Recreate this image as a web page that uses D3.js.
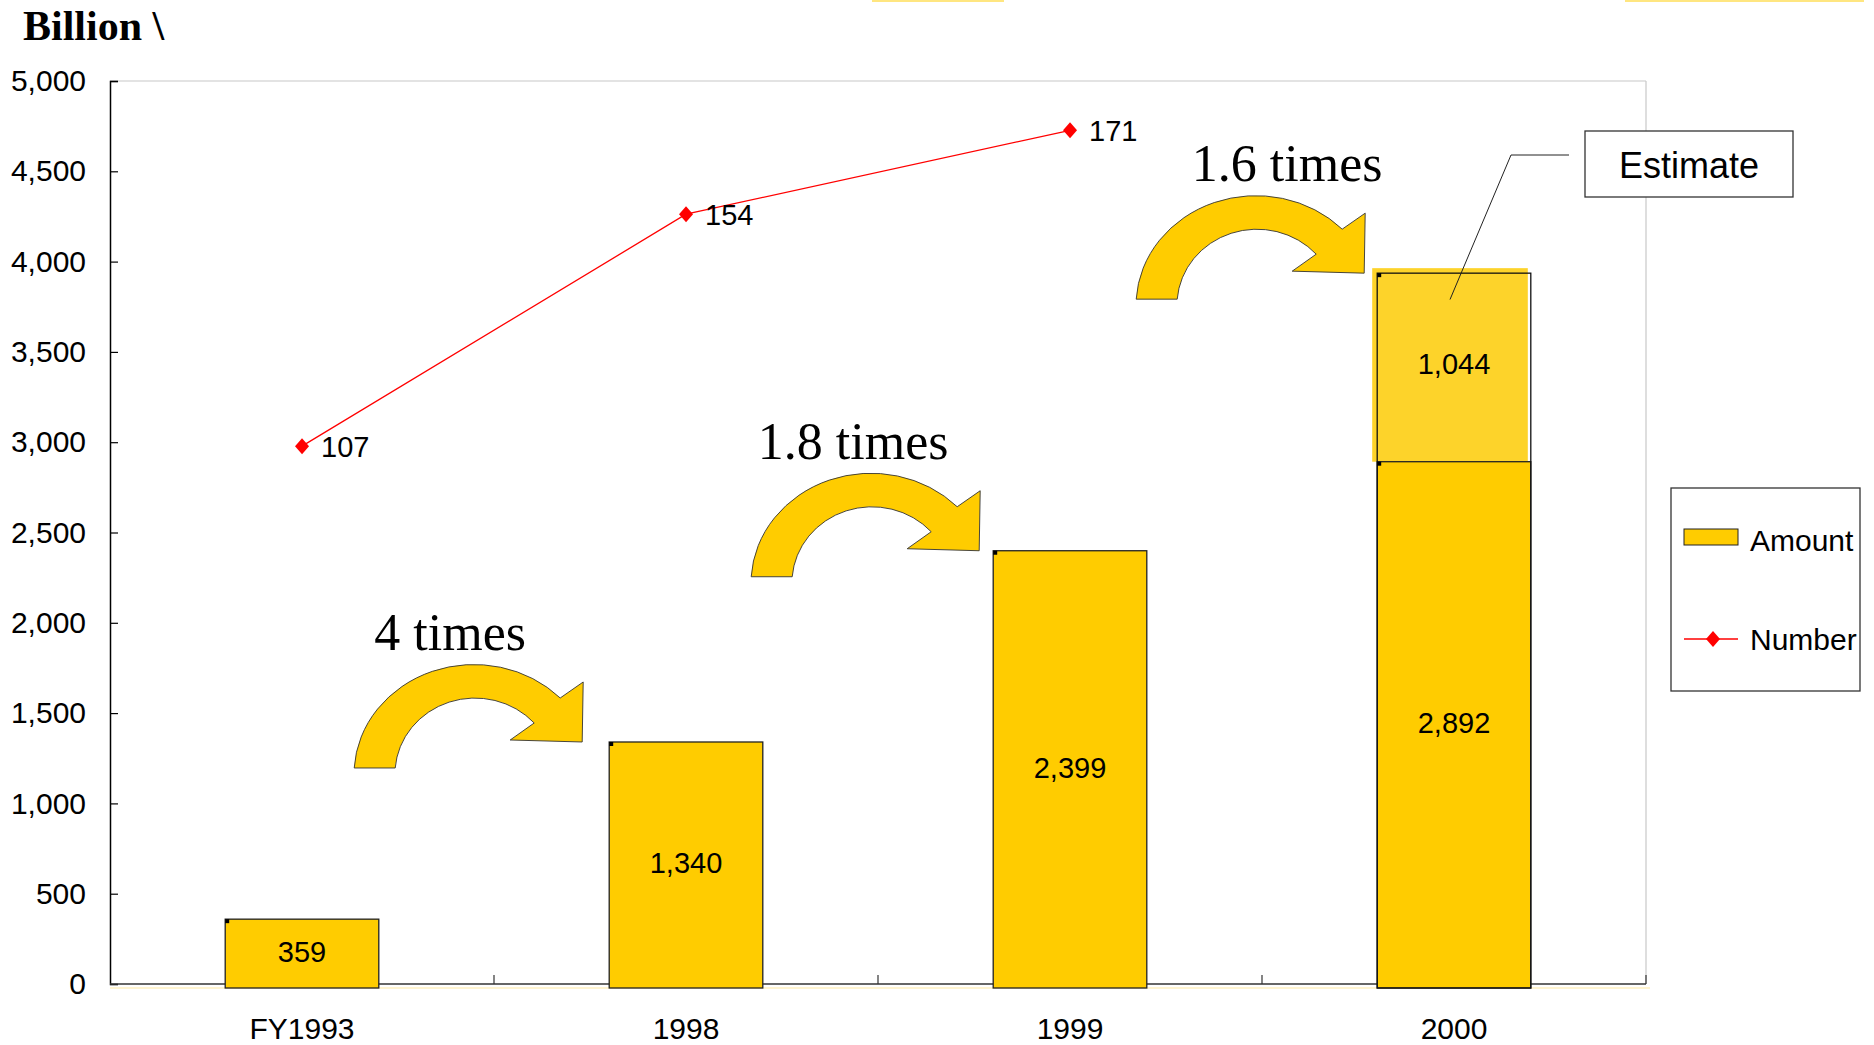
<!DOCTYPE html>
<html>
<head>
<meta charset="utf-8">
<script src="https://cdn.jsdelivr.net/npm/d3@7"></script>
<style>
  html, body { margin: 0; padding: 0; background: #fff; }
  svg { display: block; }
  text { font-family: "Liberation Sans", Arial, sans-serif; fill: #000; }
  .serif { font-family: "Liberation Serif", "Times New Roman", serif; }
</style>
</head>
<body>
<svg id="chart" width="1874" height="1045"></svg>
<script>
// ---------- data ----------
const categories = ["FY1993", "1998", "1999", "2000"];
const amountActual = [359, 1340, 2399, 2892];
const amountEstimate = [0, 0, 0, 1044];
const numberValues = [107, 154, 171];
const yTicks = [0, 500, 1000, 1500, 2000, 2500, 3000, 3500, 4000, 4500, 5000];
const growthLabels = ["4 times", "1.8 times", "1.6 times"];
const unitLabel = "Billion \\";
const estimateLabel = "Estimate";
const legendLabels = ["Amount", "Number"];

// ---------- layout ----------
const W = 1874, H = 1045;
const plot = { left: 110, right: 1646, top: 81, bottom: 984 };
const yellow = "#FFCC00", lightYellow = "#FDD32A";

const svg = d3.select("#chart");

const x = d3.scaleBand().domain(categories)
  .range([plot.left, plot.right]).paddingInner(0.6).paddingOuter(0.3);
const y = d3.scaleLinear().domain([0, 5000]).range([plot.bottom, plot.top]);
const y2 = d3.scaleLinear().domain([-2, 181]).range([plot.bottom, plot.top]);
const step = x.step();

// faint decorative lines at top of slide
svg.append("line").attr("x1", 872).attr("x2", 1004).attr("y1", 1).attr("y2", 1)
  .attr("stroke", "#FFE680").attr("stroke-width", 2);
svg.append("line").attr("x1", 1625).attr("x2", 1864).attr("y1", 1).attr("y2", 1)
  .attr("stroke", "#FFE680").attr("stroke-width", 2);

// plot frame (top and right light gray)
svg.append("line").attr("x1", plot.left).attr("x2", plot.right)
  .attr("y1", plot.top).attr("y2", plot.top).attr("stroke", "#c8c8c8").attr("stroke-width", 1.2);
svg.append("line").attr("x1", plot.right).attr("x2", plot.right)
  .attr("y1", plot.top).attr("y2", plot.bottom).attr("stroke", "#c8c8c8").attr("stroke-width", 1.2);

// faint yellow line below x axis
svg.append("line").attr("x1", plot.left).attr("x2", plot.right + 4)
  .attr("y1", plot.bottom + 4).attr("y2", plot.bottom + 4)
  .attr("stroke", "#FFE9A0").attr("stroke-width", 1);

// y axis
const yAxis = d3.axisLeft(y).tickValues(yTicks).tickSize(-8).tickPadding(24)
  .tickFormat(d3.format(","));
const gy = svg.append("g").attr("transform", `translate(${plot.left},0)`).call(yAxis);
gy.select(".domain").attr("stroke", "#000").attr("stroke-width", 1.5);
gy.selectAll(".tick line").attr("stroke", "#000").attr("stroke-width", 1.2);
gy.selectAll(".tick text").attr("font-size", 30).attr("font-family", "Liberation Sans, Arial, sans-serif")
  .attr("fill", "#000");

// x axis line + inner ticks at band boundaries
svg.append("line").attr("x1", plot.left).attr("x2", plot.right)
  .attr("y1", plot.bottom).attr("y2", plot.bottom).attr("stroke", "#333").attr("stroke-width", 1.6);
const boundaries = d3.range(1, categories.length + 1).map(i => plot.left + i * step);
svg.selectAll(".xtick").data(boundaries).enter().append("line")
  .attr("x1", d => d).attr("x2", d => d)
  .attr("y1", plot.bottom).attr("y2", plot.bottom - 9)
  .attr("stroke", "#333").attr("stroke-width", 1.2);
svg.selectAll(".xlab").data(categories).enter().append("text")
  .attr("x", d => x(d) + x.bandwidth() / 2).attr("y", 1039)
  .attr("text-anchor", "middle").attr("font-size", 30).text(d => d);

// ---------- bars ----------
const bw = x.bandwidth();
categories.forEach((c, i) => {
  if (amountEstimate[i] > 0) {
    const top = y(amountActual[i] + amountEstimate[i]);
    svg.append("rect").attr("x", x(c) - 5).attr("y", top - 5)
      .attr("width", bw + 2).attr("height", y(amountActual[i]) - top + 5)
      .attr("fill", lightYellow);
  }
});
svg.selectAll(".bar").data(categories).enter().append("rect")
  .attr("x", d => x(d)).attr("y", (d, i) => y(amountActual[i]))
  .attr("width", bw).attr("height", (d, i) => plot.bottom + 4 - y(amountActual[i]))
  .attr("fill", yellow).attr("stroke", "#222").attr("stroke-width", 1.3);
categories.forEach((c, i) => {
  if (amountEstimate[i] > 0) {
    const top = y(amountActual[i] + amountEstimate[i]);
    svg.append("rect").attr("x", x(c)).attr("y", top)
      .attr("width", bw).attr("height", plot.bottom + 4 - top)
      .attr("fill", "none").attr("stroke", "#111").attr("stroke-width", 1.3);
    svg.append("rect").attr("x", x(c)).attr("y", top).attr("width", 4).attr("height", 4).attr("fill", "#000");
  }
});
svg.selectAll(".corner").data(categories).enter().append("rect")
  .attr("x", d => x(d)).attr("y", (d, i) => y(amountActual[i]))
  .attr("width", 4).attr("height", 4).attr("fill", "#000");

const fmt = d3.format(",");
svg.selectAll(".blab").data(categories).enter().append("text")
  .attr("x", d => x(d) + bw / 2).attr("y", (d, i) => y(amountActual[i] / 2))
  .attr("dy", "0.36em").attr("text-anchor", "middle").attr("font-size", 29)
  .text((d, i) => fmt(amountActual[i]));
categories.forEach((c, i) => {
  if (amountEstimate[i] > 0) {
    svg.append("text").attr("x", x(c) + bw / 2)
      .attr("y", y(amountActual[i] + amountEstimate[i] / 2) - 4)
      .attr("dy", "0.36em").attr("text-anchor", "middle").attr("font-size", 29)
      .text(fmt(amountEstimate[i]));
  }
});

// ---------- line ----------
const linePts = numberValues.map((v, i) => [x(categories[i]) + bw / 2, y2(v)]);
svg.append("path").attr("d", d3.line()(linePts))
  .attr("fill", "none").attr("stroke", "#FF0000").attr("stroke-width", 1.3);
const diamond = "M0,-8 L7,0 L0,8 L-7,0 Z";
svg.selectAll(".mk").data(linePts).enter().append("path")
  .attr("d", diamond).attr("transform", d => `translate(${d[0]},${d[1]})`)
  .attr("fill", "#FF0000");
svg.selectAll(".nlab").data(numberValues).enter().append("text")
  .attr("x", (d, i) => linePts[i][0] + 19).attr("y", (d, i) => linePts[i][1])
  .attr("dy", "0.36em").attr("font-size", 29).text(d => d);

// ---------- growth arrows ----------
const arrowW = 229;
const arrowPath = "M0,101 A120,110 0 0 1 206,31 L229,15 L228,75 L156,73 L180,56 A80,76 0 0 0 41,101 Z";
const arrowGap = [26, 13, 12];
const labelOffset = [96, 102, 151];
growthLabels.forEach((lab, i) => {
  const next = categories[i + 1];
  const total = amountActual[i + 1] + amountEstimate[i + 1];
  const left = x(next) - arrowGap[i] - arrowW;
  const top = y(total) - 75;
  svg.append("path").attr("d", arrowPath)
    .attr("transform", `translate(${left},${top})`)
    .attr("fill", yellow).attr("stroke", "#333").attr("stroke-width", 0.9);
  svg.append("text").attr("class", "serif")
    .attr("x", left + labelOffset[i]).attr("y", top - 17)
    .attr("text-anchor", "middle").attr("font-size", 52).text(lab);
});

// ---------- estimate callout ----------
const estCat = categories[3];
const ex = x(estCat) + bw / 2 - 4, ey = y(3790);
svg.append("path")
  .attr("d", d3.line()([[ex, ey], [1511, 155], [1569, 155]]))
  .attr("fill", "none").attr("stroke", "#222").attr("stroke-width", 1);
svg.append("rect").attr("x", 1585).attr("y", 131).attr("width", 208).attr("height", 66)
  .attr("fill", "#fff").attr("stroke", "#333").attr("stroke-width", 1.3);
svg.append("text").attr("x", 1689).attr("y", 165).attr("dy", "0.36em")
  .attr("text-anchor", "middle").attr("font-size", 36).text(estimateLabel);

// ---------- legend ----------
svg.append("rect").attr("x", 1671).attr("y", 488).attr("width", 189).attr("height", 203)
  .attr("fill", "#fff").attr("stroke", "#333").attr("stroke-width", 1.3);
svg.append("rect").attr("x", 1684).attr("y", 529).attr("width", 54).attr("height", 16)
  .attr("fill", yellow).attr("stroke", "#222").attr("stroke-width", 1);
svg.append("text").attr("x", 1750).attr("y", 540).attr("dy", "0.36em")
  .attr("font-size", 30).text(legendLabels[0]);
svg.append("line").attr("x1", 1684).attr("x2", 1738).attr("y1", 639).attr("y2", 639)
  .attr("stroke", "#FF0000").attr("stroke-width", 1.3);
svg.append("path").attr("d", diamond).attr("transform", "translate(1713,639)").attr("fill", "#FF0000");
svg.append("text").attr("x", 1750).attr("y", 639).attr("dy", "0.36em")
  .attr("font-size", 30).text(legendLabels[1]);

// ---------- unit label ----------
svg.append("text").attr("class", "serif").attr("x", 23).attr("y", 40)
  .attr("font-size", 42).attr("font-weight", "bold").text(unitLabel);
</script>
</body>
</html>
